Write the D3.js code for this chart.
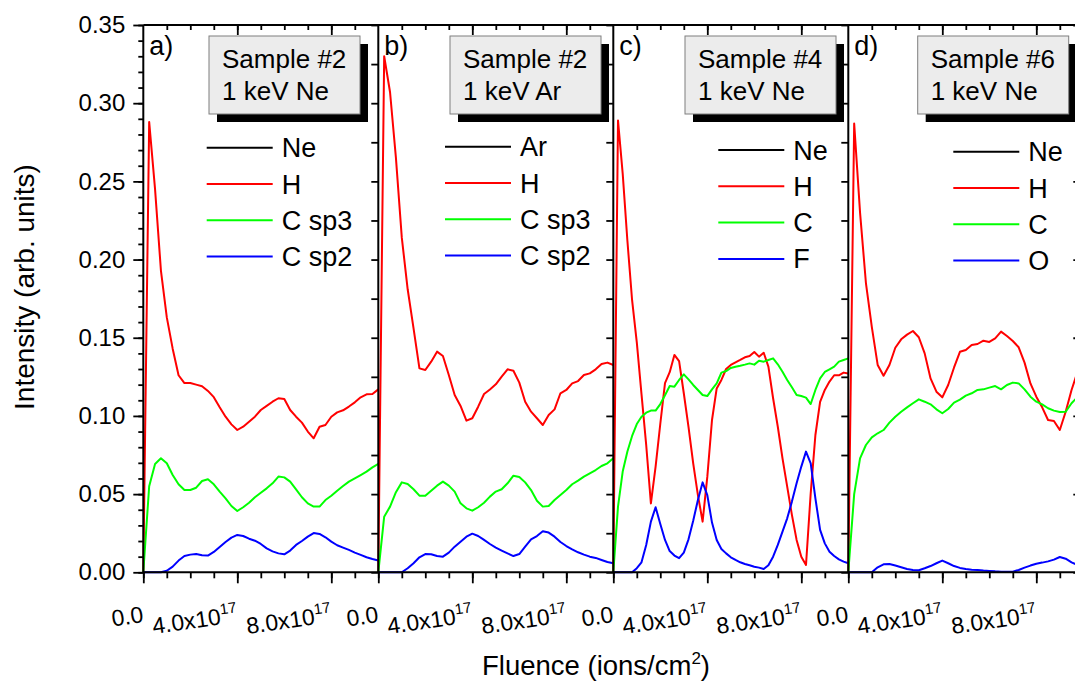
<!DOCTYPE html>
<html lang="en">
<head>
<meta charset="UTF-8">
<title>Intensity vs fluence</title>
<script src="https://d3js.org/d3.v7.min.js"></script>
<style>
    body { margin: 0; background: #fff; }
    svg text { font-family: "Liberation Sans", Arial, sans-serif; fill: #000; }
    .tick line { stroke: #000; stroke-width: 1.8; }
    .domain { display: none; }
</style>
</head>
<body>
<script>
    const width  = 1075;
    const height = 682;

    // fluence in units of 1e17 ions/cm2
    const fluence  = [0,0.25,0.5,0.75,1,1.25,1.5,1.75,2,2.25,2.5,2.75,3,3.25,3.5,3.75,4,4.25,4.5,4.75,5,
                      5.25,5.5,5.75,6,6.25,6.5,6.75,7,7.25,7.5,7.75,8,8.25,8.5,8.75,9,9.25,9.5,9.75,10];
    const fluenceC = [0,0.2,0.4,0.6,0.8,1,1.2,1.4,1.6,1.8,2,2.2,2.4,2.6,2.8,3,3.2,3.4,3.6,3.8,4,4.2,4.4,4.6,4.8,5,
                      5.2,5.4,5.6,5.8,6,6.2,6.4,6.6,6.8,7,7.2,7.4,7.6,7.8,8,8.2,8.4,8.6,8.8,9,9.2,9.4,9.6,9.8,10];

    // a) sample #2, 1 keV Ne
    const aH    = [0,0.288,0.245,0.193,0.163,0.143,0.126,0.121,0.121,0.120,0.119,0.116,0.112,0.1055,0.0995,0.0946,0.091,0.0931,0.0963,0.0995,
                   0.1038,0.1064,0.1091,0.1113,0.1108,0.1038,0.0995,0.0957,0.090,0.0857,0.0931,0.0942,0.0995,0.1023,0.1036,0.106,0.1087,0.1119,0.1138,0.114,0.117];
    const aCsp3 = [0,0.055,0.0693,0.0729,0.0697,0.0622,0.0563,0.0526,0.0526,0.0541,0.0584,0.0595,0.0563,0.0516,0.0473,0.0424,0.0392,0.0416,0.0445,0.048,
                   0.0509,0.0537,0.0569,0.0612,0.0607,0.058,0.0531,0.048,0.0441,0.042,0.042,0.0462,0.049,0.0522,0.0552,0.058,0.0601,0.0622,0.0644,0.0671,0.0693];
    const aCsp2 = [0,0,0,0,0.001,0.0036,0.0075,0.0104,0.0113,0.0117,0.0109,0.0107,0.013,0.0162,0.0194,0.0222,0.0239,0.0232,0.0215,0.0202,
                   0.0181,0.0153,0.0134,0.0121,0.0115,0.0139,0.0175,0.02,0.0228,0.0251,0.0245,0.0224,0.0196,0.0173,0.0158,0.0143,0.0126,0.0111,0.0096,0.0085,0.0075];

    // b) sample #2, 1 keV Ar
    const bH    = [0,0.330,0.307,0.265,0.214,0.181,0.156,0.1304,0.1294,0.1347,0.1411,0.1383,0.1262,0.1134,0.1064,0.097,0.0985,0.1059,0.114,0.1169,
                   0.1202,0.1251,0.1298,0.1289,0.1213,0.1091,0.1027,0.0985,0.0942,0.1006,0.1042,0.1145,0.1166,0.1208,0.1223,0.1262,0.1272,0.1298,0.1332,0.1341,0.1326];
    const bCsp3 = [0,0.0356,0.042,0.0512,0.0575,0.0565,0.0531,0.049,0.049,0.0522,0.0554,0.058,0.0554,0.0516,0.0441,0.0409,0.0394,0.0416,0.0445,0.0484,
                   0.0516,0.0531,0.0569,0.0618,0.061,0.0575,0.0526,0.0458,0.042,0.0424,0.0462,0.0494,0.0526,0.0563,0.0586,0.0612,0.0633,0.0654,0.068,0.0697,0.0729];
    const bCsp2 = [0,0,0,0,0,0.0026,0.0058,0.0096,0.0117,0.0115,0.0104,0.01,0.0126,0.0164,0.0196,0.0228,0.0247,0.0232,0.0207,0.0181,
                   0.0158,0.0139,0.0121,0.0104,0.0117,0.0164,0.0211,0.0232,0.0262,0.0254,0.0228,0.0194,0.0168,0.0147,0.0128,0.0113,0.01,0.0092,0.0079,0.0066,0.0058];

    // c) sample #4, 1 keV Ne
    const cH = [0,0.289,0.255,0.212,0.174,0.147,0.114,0.0814,0.044,0.0676,0.095,0.121,0.128,0.139,0.135,0.1145,0.093,0.0697,0.0494,0.0324,
                0.061,0.0974,0.1176,0.123,0.130,0.1326,0.1343,0.1358,0.1375,0.1383,0.1409,0.1379,0.1404,0.1315,0.1113,0.0931,0.0729,0.0548,0.0367,0.0207,
                0.01,0.0047,0.0505,0.0878,0.109,0.1166,0.122,0.126,0.126,0.1277,0.1272];
    const cC = [0,0.042,0.0644,0.0772,0.0872,0.0948,0.0995,0.1021,0.1034,0.1034,0.1076,0.1132,0.1191,0.1187,0.123,0.1266,0.1234,0.1198,0.1166,0.1134,
                0.1127,0.117,0.1208,0.1277,0.1287,0.1307,0.1315,0.1321,0.1328,0.1336,0.1328,0.1353,0.1347,0.1358,0.1368,0.133,0.1283,0.123,0.1183,0.1134,
                0.1127,0.1117,0.1076,0.1166,0.124,0.1281,0.1298,0.1315,0.1347,0.1358,0.1368];
    const cF = [0,0,0,0,0,0.0026,0.0064,0.0175,0.0324,0.0416,0.0309,0.0207,0.0136,0.0107,0.009,0.0126,0.0211,0.033,0.0462,0.0575,
                0.0494,0.0318,0.0207,0.0149,0.0121,0.0096,0.0079,0.0064,0.0053,0.0045,0.0036,0.003,0.0021,0.0045,0.01,0.0175,0.026,0.0345,0.0452,0.0569,
                0.0676,0.0772,0.0697,0.0473,0.0271,0.0185,0.0132,0.0104,0.0083,0.0068,0.0058];

    // d) sample #6, 1 keV Ne
    const dH = [0,0.287,0.23,0.185,0.157,0.1326,0.1257,0.1326,0.1436,0.149,0.152,0.1543,0.1503,0.14,0.124,0.1155,0.1119,0.1198,0.131,0.141,
                0.1422,0.1454,0.146,0.1481,0.1473,0.1496,0.1539,0.1511,0.1479,0.1439,0.1341,0.1208,0.1123,0.1055,0.0974,0.0968,0.091,0.1027,0.1166,0.128,0.132];
    const dC = [0,0.05,0.0729,0.0814,0.0863,0.0889,0.091,0.0957,0.0995,0.1027,0.1055,0.1081,0.1106,0.1091,0.1074,0.1042,0.1017,0.1044,0.1085,0.1104,
                0.113,0.1145,0.1166,0.117,0.1181,0.1191,0.117,0.1198,0.1213,0.1208,0.117,0.1123,0.1091,0.1074,0.1049,0.1034,0.1025,0.1027,0.1081,0.112,0.115];
    const dO = [0,0,0,0,0,0.0032,0.0051,0.0053,0.0043,0.0032,0.0021,0.0015,0.0013,0.0026,0.004,0.0058,0.0075,0.0058,0.004,0.0028,
                0.0021,0.0017,0.0015,0.0011,0.0009,0.0006,0.0004,0.0004,0.0004,0.0015,0.003,0.0043,0.0055,0.0062,0.007,0.0081,0.0098,0.0087,0.0064,0.0047,0.004];

    const panelLabels  = ["a)", "b)", "c)", "d)"];
    const sampleNames  = ["Sample #2", "Sample #2", "Sample #4", "Sample #6"];
    const ionNames     = ["1 keV Ne", "1 keV Ar", "1 keV Ne", "1 keV Ne"];
    const legendNames  = [["Ne","H","C sp3","C sp2"], ["Ar","H","C sp3","C sp2"], ["Ne","H","C","F"], ["Ne","H","C","O"]];
    const seriesColors = ["#000000", "#ff0000", "#00ff00", "#0000ff"];
    const yTicks       = [0, 0.05, 0.10, 0.15, 0.20, 0.25, 0.30, 0.35];
    const xMajorTicks  = [0, 4, 8];
    const xTickMantissa = ["0.0", "4.0x10", "8.0x10"];
    const xTickExponent = ["", "17", "17"];

    const panels = [
        {fl: fluence,  series: [aH, aCsp3, aCsp2]},
        {fl: fluence,  series: [bH, bCsp3, bCsp2]},
        {fl: fluenceC, series: [cH, cC, cF]},
        {fl: fluence,  series: [dH, dC, dO]}
    ];

    // layout
    const plotLeft = 143.3, panelW = 235, plotTop = 25, plotBottom = 572.3;
    const boxOffsets    = [65.7, 71.7, 71.7, 69.4];
    const legendOffsets = [[63.4, 147.7], [66.7, 146.7], [105, 150], [105, 151.7]];

    const svg = d3.select("body").append("svg").attr("width", width).attr("height", height);

    const y = d3.scaleLinear().domain([0, 0.35]).range([plotBottom, plotTop]);

    panels.forEach((p, i) => {
        const x0 = plotLeft + i * panelW;
        const x = d3.scaleLinear().domain([0, 10]).range([x0, x0 + panelW]);
        const g = svg.append("g");

        const line = d3.line().x((d, j) => x(p.fl[j])).y(d => y(d));
        p.series.forEach((s, k) => {
            g.append("path").datum(s)
                .attr("d", line)
                .attr("fill", "none")
                .attr("stroke", seriesColors[k + 1])
                .attr("stroke-width", 2)
                .attr("stroke-linejoin", "round");
        });

        // bottom ticks (outward)
        g.append("g").attr("transform", `translate(0,${plotBottom})`)
            .call(d3.axisBottom(x).tickValues(d3.range(0, 10, 1)).tickSize(6).tickFormat(""));
        g.append("g").attr("transform", `translate(0,${plotBottom})`)
            .call(d3.axisBottom(x).tickValues(xMajorTicks).tickSize(11).tickFormat(""));
        // top ticks (inward)
        g.append("g").attr("transform", `translate(0,${plotTop})`)
            .call(d3.axisTop(x).tickValues(d3.range(1, 10, 1)).tickSize(-5).tickFormat(""));
        g.append("g").attr("transform", `translate(0,${plotTop})`)
            .call(d3.axisTop(x).tickValues([4, 8]).tickSize(-10).tickFormat(""));

        // x tick labels
        xMajorTicks.forEach((t, j) => {
            const lbl = g.append("text")
                .attr("text-anchor", "end")
                .attr("font-size", 23)
                .attr("transform", `translate(${x(t) + 1},622) rotate(-8)`);
            lbl.append("tspan").text(xTickMantissa[j]);
            if (xTickExponent[j]) {
                lbl.append("tspan").attr("font-size", 15).attr("dy", -10).text(xTickExponent[j]);
            }
        });

        // left boundary of panel
        if (i === 0) {
            svg.append("g").attr("transform", `translate(${x0},0)`)
                .call(d3.axisLeft(y).tickValues(d3.range(0, 0.3501, 0.01)).tickSize(5).tickFormat(""));
            const ya = svg.append("g").attr("transform", `translate(${x0},0)`)
                .call(d3.axisLeft(y).tickValues(yTicks).tickSize(10).tickPadding(8).tickFormat(d3.format(".2f")));
            ya.selectAll("text").attr("font-size", 24).attr("font-family", "'Liberation Sans', Arial, sans-serif");
        } else {
            svg.append("g").attr("transform", `translate(${x0},0)`)
                .call(d3.axisLeft(y).tickValues(d3.range(0, 0.3501, 0.025)).tickSize(7).tickFormat(""));
        }
        svg.append("line").attr("x1", x0).attr("x2", x0).attr("y1", plotTop).attr("y2", plotBottom)
            .attr("stroke", "#000").attr("stroke-width", 2);

        // panel label
        g.append("text").attr("x", x0 + 6).attr("y", 55).attr("font-size", 27).text(panelLabels[i]);

        // sample box with shadow
        const bx = x0 + boxOffsets[i];
        g.append("rect").attr("x", bx + 8).attr("y", 44).attr("width", 151).attr("height", 78).attr("fill", "#000");
        g.append("rect").attr("x", bx).attr("y", 36).attr("width", 151).attr("height", 78)
            .attr("fill", "#ececec").attr("stroke", "#7f7f7f").attr("stroke-width", 1);
        g.append("text").attr("x", bx + 13).attr("y", 67.5).attr("font-size", 26).text(sampleNames[i]);
        g.append("text").attr("x", bx + 13).attr("y", 100).attr("font-size", 26).text(ionNames[i]);

        // legend
        const [lx, ly] = legendOffsets[i];
        legendNames[i].forEach((name, k) => {
            const yy = ly + k * 36.3;
            g.append("line").attr("x1", x0 + lx).attr("x2", x0 + lx + 66).attr("y1", yy).attr("y2", yy)
                .attr("stroke", seriesColors[k]).attr("stroke-width", 2);
            g.append("text").attr("x", x0 + lx + 75).attr("y", yy + 9.5).attr("font-size", 27).text(name);
        });
    });

    // next (cropped) panel boundary on the right edge
    const xNext = plotLeft + 4 * panelW;
    svg.append("g").attr("transform", `translate(${xNext},0)`)
        .call(d3.axisLeft(y).tickValues(yTicks).tickSize(10).tickFormat(""));

    // top and bottom frame lines
    svg.append("line").attr("x1", plotLeft).attr("x2", width).attr("y1", plotTop).attr("y2", plotTop)
        .attr("stroke", "#000").attr("stroke-width", 2);
    svg.append("line").attr("x1", plotLeft).attr("x2", width).attr("y1", plotBottom).attr("y2", plotBottom)
        .attr("stroke", "#000").attr("stroke-width", 2);

    // axis titles
    const xt = svg.append("text").attr("x", 482).attr("y", 675).attr("font-size", 27.5);
    xt.append("tspan").text("Fluence (ions/cm");
    xt.append("tspan").attr("font-size", 17).attr("dy", -11).text("2");
    xt.append("tspan").attr("dy", 11).text(")");

    svg.append("text")
        .attr("transform", "translate(34,287) rotate(-90)")
        .attr("text-anchor", "middle")
        .attr("font-size", 28)
        .text("Intensity (arb. units)");
</script>
</body>
</html>
